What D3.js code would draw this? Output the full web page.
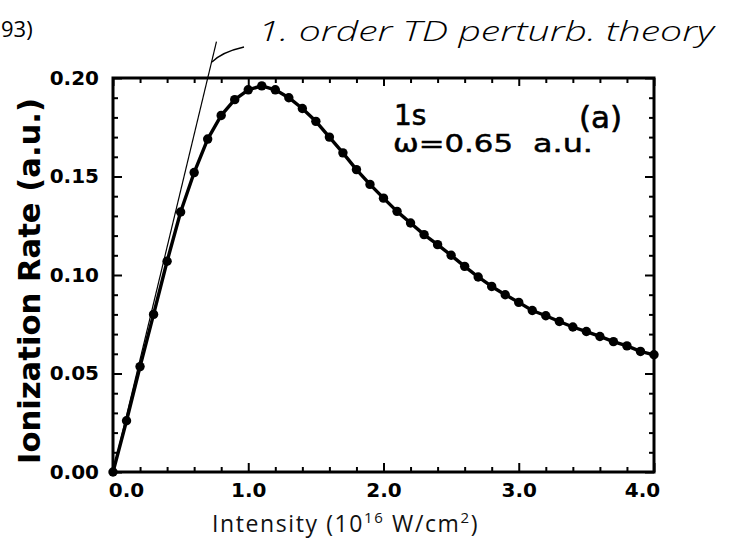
<!DOCTYPE html>
<html>
<head>
<meta charset="utf-8">
<script src="https://cdn.jsdelivr.net/npm/d3@7"></script>
<style>
  html, body { margin: 0; padding: 0; background: #fff; }
  svg { display: block; }
</style>
</head>
<body>
<svg id="chart" width="747" height="552"></svg>
<script>
// ---- data ----
const intensity = [0.0,0.1,0.2,0.3,0.4,0.5,0.6,0.7,0.8,0.9,1.0,1.1,1.2,1.3,1.4,1.5,1.6,1.7,1.8,1.9,
                   2.0,2.1,2.2,2.3,2.4,2.5,2.6,2.7,2.8,2.9,3.0,3.1,3.2,3.3,3.4,3.5,3.6,3.7,3.8,3.9,4.0];
const rate = [0.000,0.026,0.0535,0.080,0.107,0.132,0.152,0.169,0.181,0.189,0.194,0.196,0.194,0.190,0.1845,0.178,0.170,0.162,0.1535,0.146,
              0.139,0.1323,0.1264,0.1205,0.1154,0.1100,0.1044,0.0990,0.0942,0.0900,0.0861,0.0820,0.0793,0.0764,0.0736,0.0713,0.0688,0.0662,0.0640,0.0612,0.0595];
const tangentX = [0, 0.765];
const tangentY = [0, 0.2185];
const xMajorTicks = [0, 1, 2, 3, 4];
const xMinorTicks = [0.2,0.4,0.6,0.8,1.2,1.4,1.6,1.8,2.2,2.4,2.6,2.8,3.2,3.4,3.6,3.8];
const yMajorTicks = [0, 0.05, 0.10, 0.15, 0.20];
const yMinorTicks = [0.01,0.02,0.03,0.04,0.06,0.07,0.08,0.09,0.11,0.12,0.13,0.14,0.16,0.17,0.18,0.19];

// ---- layout ----
const svg = d3.select("#chart");
const x = d3.scaleLinear().domain([0, 4]).range([113, 654]);
const y = d3.scaleLinear().domain([0, 0.2]).range([472, 78]);
const tickFont = "'DejaVu Sans', sans-serif";

function styleAxis(g) {
  g.select(".domain").remove();
  g.selectAll(".tick line").attr("stroke", "#000").attr("stroke-width", 2);
  g.selectAll("text").attr("fill", "#000").attr("font-family", tickFont)
    .attr("font-weight", "bold").attr("font-size", 20);
}

// bottom
svg.append("g").attr("transform", `translate(0,${y(0)})`)
  .call(d3.axisBottom(x).tickValues(xMajorTicks).tickSize(-9).tickPadding(11).tickFormat(d3.format(".1f")))
  .call(styleAxis)
  .call(g => g.selectAll(".tick text").attr("dx", d => d === 0 ? 13 : (d === 4 ? -12 : 0)));
svg.append("g").attr("transform", `translate(0,${y(0)})`)
  .call(d3.axisBottom(x).tickValues(xMinorTicks).tickSize(-5).tickFormat(""))
  .call(styleAxis);
// top
svg.append("g").attr("transform", `translate(0,${y(0.2)})`)
  .call(d3.axisTop(x).tickValues(xMajorTicks).tickSize(-8).tickFormat(""))
  .call(styleAxis);
svg.append("g").attr("transform", `translate(0,${y(0.2)})`)
  .call(d3.axisTop(x).tickValues(xMinorTicks).tickSize(-5).tickFormat(""))
  .call(styleAxis);
// left
svg.append("g").attr("transform", `translate(${x(0)},0)`)
  .call(d3.axisLeft(y).tickValues(yMajorTicks).tickSize(-9).tickPadding(14).tickFormat(d3.format(".2f")))
  .call(styleAxis);
svg.append("g").attr("transform", `translate(${x(0)},0)`)
  .call(d3.axisLeft(y).tickValues(yMinorTicks).tickSize(-5).tickFormat(""))
  .call(styleAxis);
// right
svg.append("g").attr("transform", `translate(${x(4)},0)`)
  .call(d3.axisRight(y).tickValues(yMajorTicks).tickSize(-9).tickFormat(""))
  .call(styleAxis);
svg.append("g").attr("transform", `translate(${x(4)},0)`)
  .call(d3.axisRight(y).tickValues(yMinorTicks).tickSize(-5).tickFormat(""))
  .call(styleAxis);

// frame
svg.append("rect")
  .attr("x", x(0)).attr("y", y(0.2))
  .attr("width", x(4) - x(0)).attr("height", y(0) - y(0.2))
  .attr("fill", "none").attr("stroke", "#000").attr("stroke-width", 3);

// tangent line (1st-order perturbation theory)
svg.append("path")
  .datum(d3.zip(tangentX, tangentY))
  .attr("d", d3.line().x(d => x(d[0])).y(d => y(d[1])))
  .attr("fill", "none").attr("stroke", "#000").attr("stroke-width", 1.2);

// data curve
svg.append("path")
  .datum(d3.zip(intensity, rate))
  .attr("d", d3.line().x(d => x(d[0])).y(d => y(d[1])))
  .attr("fill", "none").attr("stroke", "#000").attr("stroke-width", 3.4)
  .attr("stroke-linejoin", "round");
svg.append("g").selectAll("circle")
  .data(d3.zip(intensity, rate))
  .join("circle")
  .attr("cx", d => x(d[0])).attr("cy", d => y(d[1])).attr("r", 4.7)
  .attr("fill", "#000");

// annotations inside plot
svg.append("text").attr("x", 394).attr("y", 125)
  .attr("font-family", "'DejaVu Sans', sans-serif").attr("font-size", 28)
  .attr("stroke", "#000").attr("stroke-width", 0.6)
  .attr("fill", "#000").text("1s");
svg.append("text").attr("x", 579).attr("y", 128)
  .attr("font-family", "'DejaVu Sans', sans-serif").attr("font-size", 31)
  .attr("stroke", "#000").attr("stroke-width", 0.6)
  .attr("fill", "#000").text("(a)");
svg.append("text").attr("x", 393).attr("y", 152)
  .attr("font-family", "'DejaVu Sans', sans-serif").attr("font-size", 25)
  .attr("stroke", "#000").attr("stroke-width", 0.5)
  .attr("textLength", 120).attr("lengthAdjust", "spacingAndGlyphs")
  .attr("fill", "#000").text("ω=0.65");
svg.append("text").attr("x", 533).attr("y", 152)
  .attr("font-family", "'DejaVu Sans', sans-serif").attr("font-size", 25)
  .attr("stroke", "#000").attr("stroke-width", 0.5)
  .attr("textLength", 60).attr("lengthAdjust", "spacingAndGlyphs")
  .attr("fill", "#000").text("a.u.");

// y-axis title
svg.append("text")
  .attr("transform", "translate(40,281) rotate(-90)")
  .attr("text-anchor", "middle")
  .attr("font-family", "'DejaVu Sans', sans-serif").attr("font-weight", "bold")
  .attr("font-size", 30).attr("textLength", 366).attr("lengthAdjust", "spacingAndGlyphs")
  .attr("fill", "#000").text("Ionization Rate (a.u.)");

// x-axis title
const xt = svg.append("text").attr("x", 212).attr("y", 532)
  .attr("font-family", "'Open Sans', sans-serif").attr("font-size", 23)
  .attr("letter-spacing", 1.6).attr("fill", "#111");
xt.append("tspan").text("Intensity (10");
xt.append("tspan").attr("font-size", 15).attr("dy", -9).text("16");
xt.append("tspan").attr("dy", 9).text(" W/cm");
xt.append("tspan").attr("font-size", 15).attr("dy", -9).text("2");
xt.append("tspan").attr("dy", 9).text(")");

// handwritten annotation
svg.append("text").attr("x", 258).attr("y", 41)
  .attr("font-family", "'Open Sans', sans-serif").attr("font-style", "italic").attr("font-weight", 300)
  .attr("font-size", 27).attr("textLength", 456).attr("lengthAdjust", "spacingAndGlyphs")
  .attr("fill", "#000").text("1. order TD perturb. theory");
svg.append("path")
  .attr("d", "M212,62 Q222,52 244,47")
  .attr("fill", "none").attr("stroke", "#000").attr("stroke-width", 1.3);

// reference fragment at top-left
svg.append("text").attr("x", 1).attr("y", 37)
  .attr("font-family", "'Open Sans', sans-serif").attr("font-size", 22)
  .attr("fill", "#000").text("93)");
</script>
</body>
</html>
